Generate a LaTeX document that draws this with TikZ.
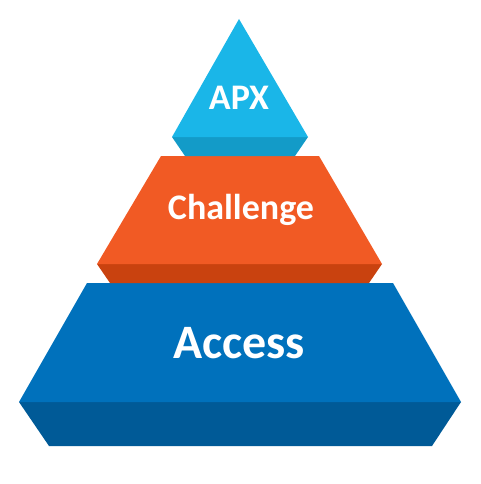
\documentclass[tikz,border=0pt]{standalone}
\usepackage{fontspec}
\setmainfont{Carlito}
\definecolor{apxtop}{HTML}{1AB6E8}
\definecolor{apxside}{HTML}{139BC8}
\definecolor{chtop}{HTML}{F15A24}
\definecolor{chside}{HTML}{C9420F}
\definecolor{actop}{HTML}{0071BC}
\definecolor{acside}{HTML}{005A97}
\begin{document}
\begin{tikzpicture}[x=1pt,y=-1pt,
  lbl/.style={text=white,inner sep=0pt,anchor=base}]
\useasboundingbox (0,0) rectangle (480,484);
% Access
\fill[acside] (19,402) -- (461,402) -- (432,446) -- (49,446) -- cycle;
\fill[actop] (87,283) -- (393,283) -- (461,402) -- (19,402) -- cycle;
% Challenge
\fill[chside] (97,264) -- (382,264) -- (369,283) -- (110,283) -- cycle;
\fill[chtop] (161,156) -- (319,156) -- (382,264) -- (97,264) -- cycle;
% APX
\fill[apxside] (172,137) -- (308,137) -- (295,156) -- (185,156) -- cycle;
\fill[apxtop] (239,19) -- (308,137) -- (172,137) -- cycle;
\node[lbl,font=\fontsize{36}{40}\selectfont\bfseries] (apx) at (239,110) {APX};
\node[lbl,font=\fontsize{36}{40}\selectfont\bfseries] (ch) at (241,219) {Challenge};
\node[lbl,font=\fontsize{48}{52}\selectfont\bfseries] (ac) at (239,358) {Access};
\end{tikzpicture}
\end{document}
